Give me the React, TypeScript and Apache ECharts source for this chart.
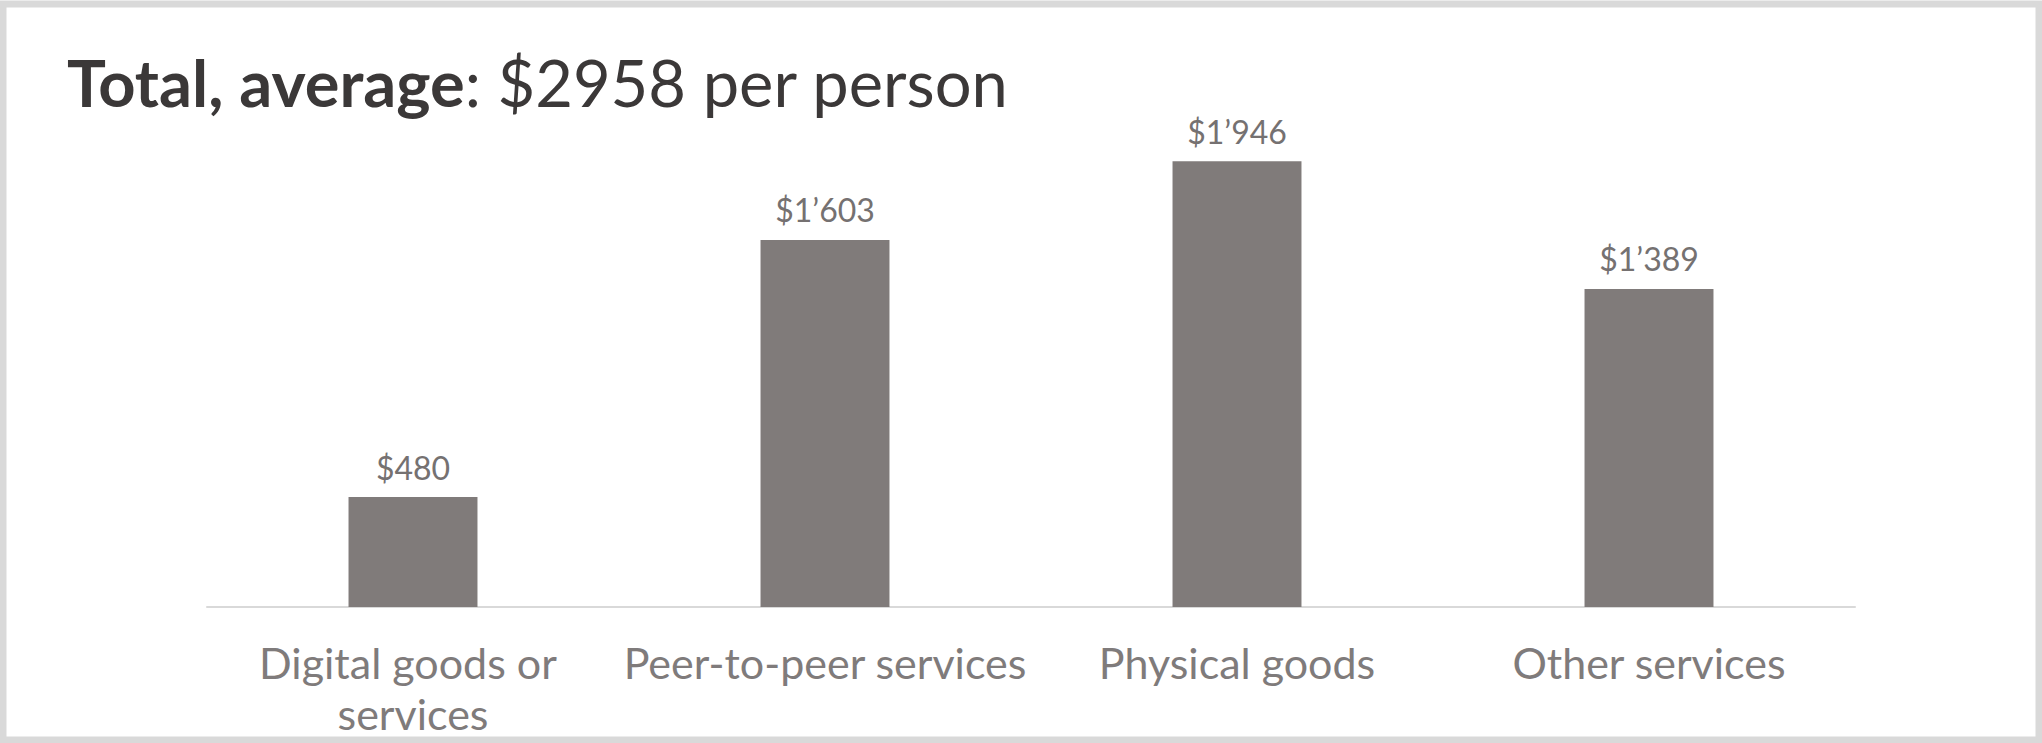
import React, { useEffect, useRef } from "react";
import * as echarts from "echarts";

const categories = ["Digital goods or services", "Peer-to-peer services", "Physical goods", "Other services"];
const values = [480, 1603, 1946, 1389];
const titleBold = "Total, average";
const titleRest = ": $2958 per person";

function fmt(v: number): string {
  const s = String(v);
  if (s.length > 3) return "$" + s.slice(0, s.length - 3) + "\u2019" + s.slice(s.length - 3);
  return "$" + s;
}

export default function App() {
  const ref = useRef<HTMLDivElement>(null);
  useEffect(() => {
    const chart = echarts.init(ref.current!, null, { renderer: "svg" });
    chart.setOption({
      animation: false,
      backgroundColor: "#ffffff",
      title: {
        text: "{b|" + titleBold + "}{r|" + titleRest + "}",
        left: 62,
        top: 44,
        textStyle: {
          rich: {
            b: { fontFamily: "Lato", fontWeight: "bold", fontSize: 65, color: "#3b3838" },
            r: { fontFamily: "Lato", fontWeight: "normal", fontSize: 65, color: "#3b3838" },
          },
        },
      },
      graphic: [
        {
          type: "rect",
          shape: { x: 3, y: 4, width: 2036, height: 736 },
          style: { fill: "none", stroke: "#d9d9d9", lineWidth: 7 },
          silent: true,
        },
      ],
      grid: { left: 207, right: 187, top: 149, bottom: 136 },
      xAxis: {
        type: "category",
        data: categories,
        axisLine: { show: true, lineStyle: { color: "#d9d9d9", width: 2 } },
        axisTick: { show: false },
        axisLabel: {
          fontFamily: "Lato",
          fontSize: 43,
          color: "#7f7b7b",
          margin: 30,
          width: 410,
          overflow: "break",
          lineHeight: 51,
          interval: 0,
        },
      },
      yAxis: {
        type: "value",
        min: 0,
        max: 2000,
        show: false,
        splitLine: { show: false },
      },
      series: [
        {
          type: "bar",
          data: values,
          barWidth: "31.3%",
          itemStyle: { color: "#807b7a" },
          label: {
            show: true,
            position: "top",
            distance: 14,
            fontFamily: "Lato",
            fontSize: 32,
            color: "#757171",
            formatter: (p: any) => fmt(p.value),
          },
        },
      ],
    });
    return () => chart.dispose();
  }, []);
  return <div ref={ref} style={{ position: "fixed", left: 0, top: 0, width: 2042, height: 743 }} />;
}
